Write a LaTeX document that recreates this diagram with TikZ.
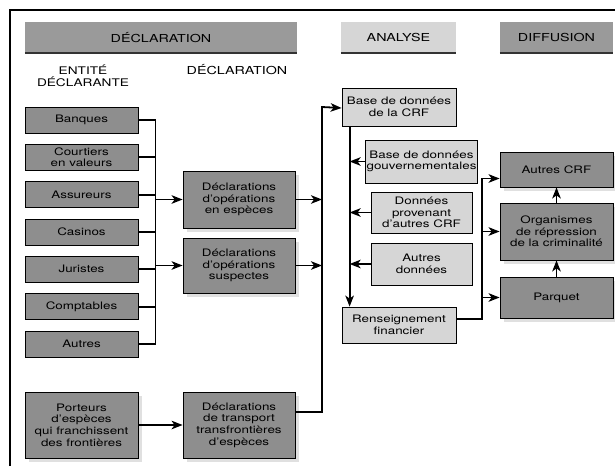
\documentclass[tikz,border=0pt]{standalone}
\usepackage{fontspec}
\setmainfont{TeX Gyre Heros}[FakeStretch=1.3]
\usepackage{tikz}
\usetikzlibrary{positioning, shapes, shadows, arrows.meta}
\usepackage{xcolor}
\definecolor{boxgray}{RGB}{142,142,142}
\definecolor{lightbox}{RGB}{214,214,214}
\definecolor{hdrgray}{RGB}{154,154,154}
\definecolor{shadegray}{RGB}{224,224,224}

\tikzset{
  conn/.style={line width=1.8pt},
  arr/.style={conn, -{Stealth[length=11pt,width=8.5pt,inset=3pt]}},
  box/.style={draw, line width=0.8pt, fill=boxgray, align=center, inner sep=1pt,
    font=\fontsize{10.3}{11.7}\selectfont},
  entbox/.style={box, minimum width=113pt, minimum height=26pt},
  shbox/.style={box, drop shadow={shadow xshift=4pt, shadow yshift=-4pt, fill=shadegray, opacity=1}},
  lbox/.style={box, fill=lightbox},
  hdr/.style={fill=#1, minimum height=31pt, inner sep=0pt, font=\fontsize{11}{13}\selectfont},
  hdr/.default=hdrgray
}

\begin{document}
\begin{tikzpicture}[x=1pt,y=-1pt]
     \useasboundingbox (0,0) rectangle (615,466);
     \draw[line width=2.5pt](10,466)--(10,10)--(615,10);%cadre

     % en-tetes
     \node[hdr, minimum width=272pt] (hdecl) at (161,37.5) {DÉCLARATION};
     \node[hdr=lightbox, minimum width=115pt] (hana) at (398.5,37.5) {ANALYSE};
     \node[hdr, minimum width=113pt] (hdiff) at (556.5,37.5) {DIFFUSION};
     \foreach \h in {hdecl,hana,hdiff}
       \draw[line width=2.5pt, black!80] (\h.south west)--(\h.south east);
     \node[align=center, font=\fontsize{10.5}{12}\selectfont] (tent) at (83,76) {ENTITÉ\\DÉCLARANTE};
     \node[font=\fontsize{11}{13}\selectfont] (tdecl) at (237,70) {DÉCLARATION};

     % entites declarantes
     \node[entbox] (banq) at (81.5,120) {Banques};
     \node[entbox] (court) at (81.5,157.3) {Courtiers\\en valeurs};
     \node[entbox] (assu) at (81.5,194.7) {Assureurs};
     \node[entbox] (casi) at (81.5,232) {Casinos};
     \node[entbox] (juri) at (81.5,269.3) {Juristes};
     \node[entbox] (compt) at (81.5,306.7) {Comptables};
     \node[entbox] (autr) at (81.5,344) {Autres};
     \node[shbox, minimum width=113pt, minimum height=66pt] (port) at (81.5,425)
       {Porteurs\\d'espèces\\qui franchissent\\des frontières};

     % declarations
     \node[shbox, minimum width=112pt, minimum height=57pt] (dcash) at (239,199.5)
       {Déclarations\\d'opérations\\en espèces};
     \node[shbox, minimum width=112pt, minimum height=55pt] (dsusp) at (239,265.5)
       {Déclarations\\d'opérations\\suspectes};
     \node[shbox, minimum width=112pt, minimum height=66pt] (dtrans) at (239,425)
       {Déclarations\\de transport\\transfrontières\\d'espèces};

     % analyse
     \node[lbox, minimum width=114pt, minimum height=38pt] (crf) at (399,107)
       {Base de données\\de la CRF};
     \node[lbox, minimum width=101pt, minimum height=43pt] (gov) at (421.5,161.5)
       {Base de données\\gouvernementales};
     \node[lbox, minimum width=101pt, minimum height=41pt] (odata) at (421.5,212.5)
       {Données\\provenant\\d'autres CRF};
     \node[lbox, minimum width=101pt, minimum height=42pt] (adata) at (421.5,264)
       {Autres\\données};
     \node[lbox, minimum width=114pt, minimum height=36pt] (rens) at (399,325)
       {Renseignement\\financier};

     % diffusion
     \node[shbox, minimum width=113pt, minimum height=35pt] (acrf) at (556.5,169.5) {Autres CRF};
     \node[shbox, minimum width=113pt, minimum height=57pt] (org) at (556.5,231.5)
       {Organismes\\de répression\\de la criminalité};
     \node[shbox, minimum width=113pt, minimum height=41pt] (parq) at (556.5,297.5) {Parquet};

     % liaisons
     \coordinate (busa) at (155.5,0);
     \coordinate (busb) at (322,0);
     \coordinate (busc) at ([xshift=8pt]crf.south west);
     \coordinate (busd) at (482,0);
     \coordinate (acin) at ([yshift=-9pt]acrf.west);
     \foreach \n in {banq,court,assu,casi,juri,compt,autr}
       \draw[conn] (\n.east)--(\n.east -| busa);
     \draw[conn] (banq.east -| busa)--(autr.east -| busa);
     \draw[arr] (dcash.west -| busa)--(dcash.west);
     \draw[arr] (dsusp.west -| busa)--(dsusp.west);
     \draw[arr] (port.east)--(port.east -| dtrans.west);

     \draw[arr] (dcash.east)--(dcash.east -| busb);
     \draw[arr] (dsusp.east)--(dsusp.east -| busb);
     \draw[arr] ([yshift=13pt]dtrans.east)-|(busb |- crf.west)--([yshift=-1pt]crf.west);

     \draw[arr] (busc)--(busc |- rens.north);
     \foreach \n in {gov,odata,adata}
       \draw[arr] (\n.west)--(\n.west -| busc);

     \draw[arr] ([yshift=6pt]rens.east)-|(busd |- acin)--(acin);
     \draw[arr] (busd |- org.west)--(org.west);
     \draw[arr] (busd |- parq.west)--(parq.west);
     \draw[arr] (parq.north)--(org.south);
     \draw[arr] (org.north)--(acrf.south);
\end{tikzpicture}
\end{document}
